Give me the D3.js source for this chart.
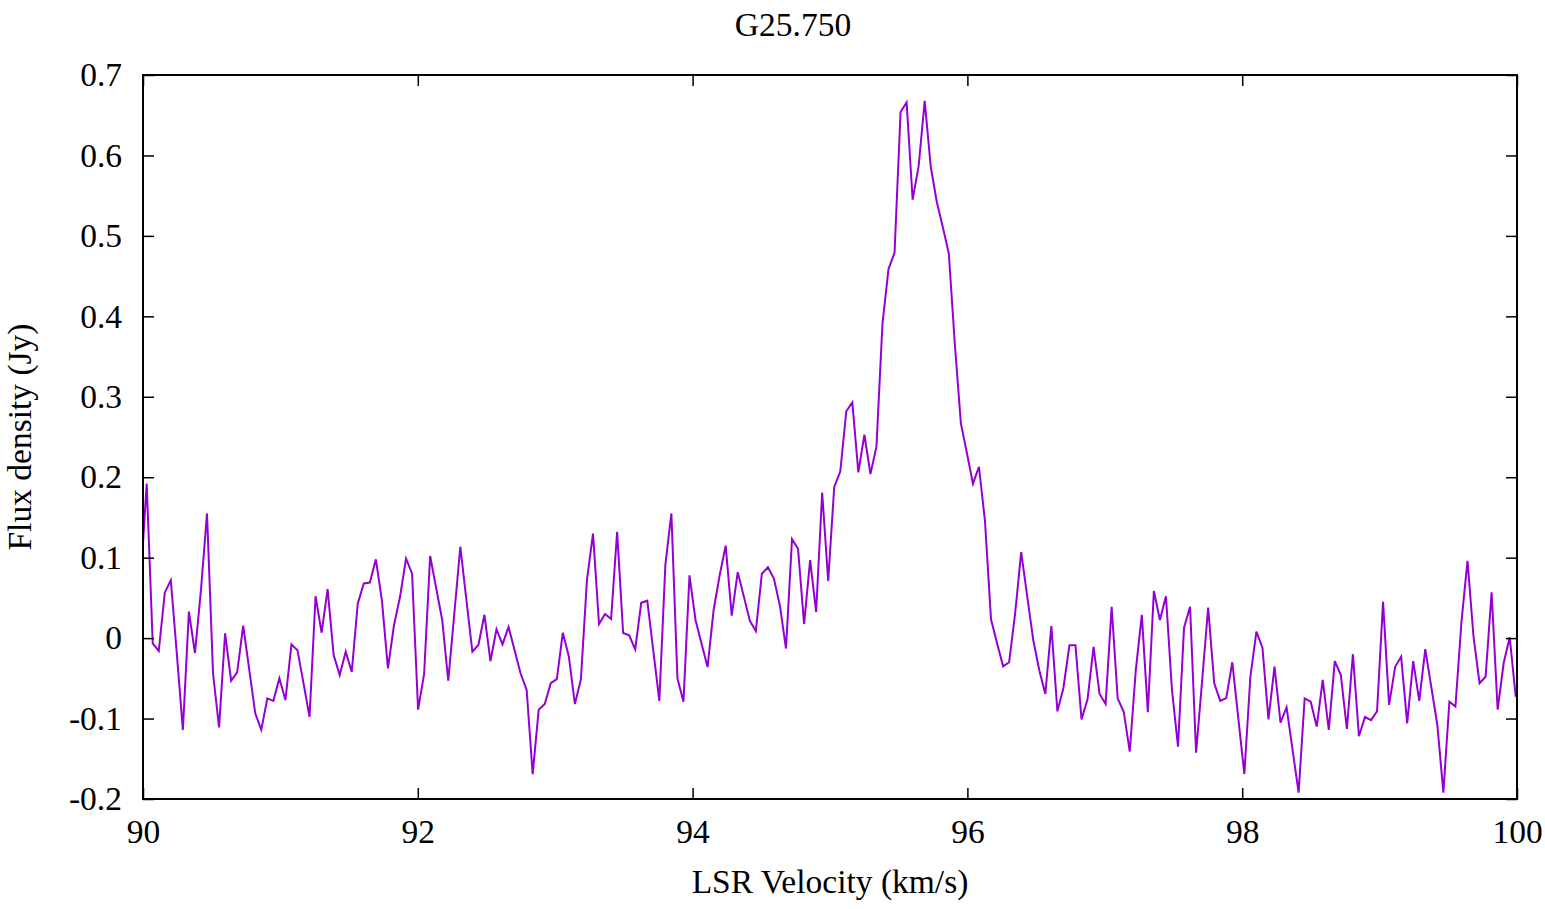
<!doctype html>
<html>
<head>
<meta charset="utf-8">
<title>G25.750</title>
<script src="https://cdn.jsdelivr.net/npm/d3@7"></script>
<style>
body { margin: 0; background: #fff; }
text { font-family: "Liberation Serif", "DejaVu Serif", serif; font-size: 33.5px; fill: #000; }
.frame { fill: none; stroke: #000; stroke-width: 2px; }
.tick line { stroke: #000; stroke-width: 1.5px; }
.spec { fill: none; stroke: #9400d3; stroke-width: 2px; stroke-linejoin: miter; }
</style>
</head>
<body>
<script>
// spectrum channel grid (first channel velocity, channel width in km/s)
var velStart = 89.983;
var chanWidth = 0.043894;

// flux density per channel (Jy)
var flux = [
  0.072,
  0.192, -0.0065, -0.016, 0.0565, 0.072, -0.02, -0.114, 0.033, -0.0185, 0.06,
  0.155, -0.044, -0.111, 0.006, -0.053, -0.0425, 0.0155, -0.039, -0.0935, -0.114,
  -0.075, -0.078, -0.05, -0.077, -0.0077, -0.015, -0.056, -0.098, 0.052, 0.0067,
  0.061, -0.021, -0.046, -0.017, -0.042, 0.043, 0.068, 0.069, 0.098, 0.047,
  -0.0376, 0.016, 0.051, 0.099, 0.080, -0.089, -0.0446, 0.102, 0.062, 0.0225,
  -0.053, 0.030, 0.1136, 0.048, -0.017, -0.0086, 0.029, -0.0285, 0.011, -0.0077,
  0.014, -0.015, -0.044, -0.0645, -0.169, -0.089, -0.082, -0.056, -0.051, 0.0067,
  -0.023, -0.082, -0.051, 0.072, 0.130, 0.0175, 0.030, 0.0237, 0.132, 0.0063,
  0.0035, -0.014, 0.044, 0.0465, -0.0157, -0.078, 0.091, 0.155, -0.050, -0.079,
  0.078, 0.0225, -0.007, -0.036, 0.035, 0.078, 0.115, 0.028, 0.082, 0.052,
  0.0216, 0.0088, 0.080, 0.088, 0.074, 0.040, -0.013, 0.123, 0.111, 0.0175,
  0.097, 0.0324, 0.181, 0.071, 0.188, 0.207, 0.282, 0.293, 0.206, 0.253,
  0.204, 0.238, 0.391, 0.459, 0.479, 0.654, 0.666, 0.545, 0.587, 0.668,
  0.586, 0.5425, 0.511, 0.478, 0.365, 0.267, 0.230, 0.192, 0.213, 0.145,
  0.023, -0.0065, -0.035, -0.030, 0.031, 0.107, 0.052, -0.0024, -0.040, -0.0695,
  0.015, -0.091, -0.062, -0.009, -0.009, -0.101, -0.076, -0.011, -0.0695, -0.082,
  0.039, -0.075, -0.0915, -0.141, -0.040, 0.029, -0.092, 0.0585, 0.0225, 0.052,
  -0.0645, -0.135, 0.013, 0.039, -0.1425, -0.053, 0.038, -0.056, -0.078, -0.0745,
  -0.030, -0.0997, -0.169, -0.048, 0.008, -0.012, -0.101, -0.0355, -0.105, -0.086,
  -0.139, -0.192, -0.075, -0.079, -0.110, -0.052, -0.114, -0.0285, -0.046, -0.113,
  -0.020, -0.122, -0.098, -0.102, -0.091, 0.045, -0.083, -0.036, -0.023, -0.106,
  -0.0285, -0.078, -0.0136, -0.061, -0.108, -0.192, -0.079, -0.085, 0.020, 0.096,
  0.0017, -0.056, -0.048, 0.057, -0.089, -0.031, 0.001, -0.073
];

var xTicks = [90, 92, 94, 96, 98, 100];
var yTicks = [-0.2, -0.1, 0, 0.1, 0.2, 0.3, 0.4, 0.5, 0.6, 0.7];
var yTickLabels = ["-0.2", "-0.1", "0", "0.1", "0.2", "0.3", "0.4", "0.5", "0.6", "0.7"];

var titleText = "G25.750";
var xLabel = "LSR Velocity (km/s)";
var yLabel = "Flux density (Jy)";

var W = 1545, H = 909;
var margin = { top: 75, right: 28, bottom: 110, left: 143 },
    width = W - margin.left - margin.right,
    height = H - margin.top - margin.bottom;

var data = flux.map(function(f, i) { return { v: velStart + i * chanWidth, f: f }; });

var x = d3.scaleLinear().domain([90, 100]).range([0, width]);
var y = d3.scaleLinear().domain([-0.2, 0.7]).range([height, 0]);

var svg = d3.select("body").append("svg")
    .attr("width", W)
    .attr("height", H);

var g = svg.append("g")
    .attr("transform", "translate(" + margin.left + "," + margin.top + ")");

g.append("clipPath").attr("id", "clip")
  .append("rect").attr("width", width).attr("height", height);

var line = d3.line()
    .x(function(d) { return x(d.v); })
    .y(function(d) { return y(d.f); });

g.append("path")
    .datum(data)
    .attr("class", "spec")
    .attr("clip-path", "url(#clip)")
    .attr("d", line);

// inward ticks on all four sides
var ytl = {};
yTicks.forEach(function(t, i) { ytl[t] = yTickLabels[i]; });

g.append("g").attr("class", "axis")
    .attr("transform", "translate(0," + height + ")")
    .call(d3.axisBottom(x).tickValues(xTicks).tickSize(-11).tickPadding(20).tickFormat(d3.format("d")))
    .call(function(s) { s.select(".domain").remove(); s.selectAll("text").attr("dy", "0.71em").attr("y", 20); });

g.append("g").attr("class", "axis")
    .call(d3.axisTop(x).tickValues(xTicks).tickSize(-11).tickFormat(""))
    .call(function(s) { s.select(".domain").remove(); });

g.append("g").attr("class", "axis")
    .call(d3.axisLeft(y).tickValues(yTicks).tickSize(-11).tickPadding(20)
      .tickFormat(function(d) { return ytl[d]; }))
    .call(function(s) { s.select(".domain").remove(); s.selectAll("text").attr("x", -21); });

g.append("g").attr("class", "axis")
    .attr("transform", "translate(" + width + ",0)")
    .call(d3.axisRight(y).tickValues(yTicks).tickSize(-11).tickFormat(""))
    .call(function(s) { s.select(".domain").remove(); });

g.selectAll(".axis text").attr("font-size", null).attr("font-family", null);

g.append("rect")
    .attr("class", "frame")
    .attr("width", width)
    .attr("height", height);

svg.append("text")
    .attr("x", 793)
    .attr("y", 36)
    .attr("text-anchor", "middle")
    .text(titleText);

svg.append("text")
    .attr("x", margin.left + width / 2)
    .attr("y", 893)
    .attr("text-anchor", "middle")
    .text(xLabel);

svg.append("text")
    .attr("transform", "translate(31," + (margin.top + y(0.25)) + ") rotate(-90)")
    .attr("text-anchor", "middle")
    .text(yLabel);
</script>
</body>
</html>
